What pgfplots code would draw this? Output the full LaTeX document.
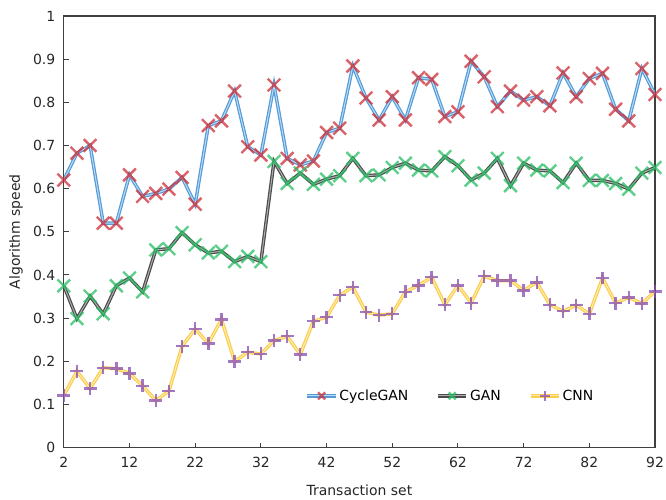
\documentclass[border=0pt]{standalone}
\usepackage{fontspec}
\setmainfont{DejaVu Sans}
\usepackage{pgfplots}
\pgfplotsset{compat=1.18}
\definecolor{cgline}{RGB}{85,155,215}
\definecolor{cgin}{RGB}{185,220,245}
\definecolor{cgmark}{RGB}{205,45,55}
\definecolor{ganline}{RGB}{75,75,75}
\definecolor{ganin}{RGB}{175,175,175}
\definecolor{ganmark}{RGB}{40,190,100}
\definecolor{cnnline}{RGB}{250,205,80}
\definecolor{cnnin}{RGB}{255,238,170}
\definecolor{cnnmark}{RGB}{135,75,180}
\begin{document}
\begin{tikzpicture}
\begin{axis}[
  scale only axis,
  width=593pt, height=433pt,
  xmin=2, xmax=92, ymin=0, ymax=1,
  xtick={2,12,...,92},
  ytick={0,0.1,...,1},
  yticklabels={0,0.1,0.2,0.3,0.4,0.5,0.6,0.7,0.8,0.9,1},
  tick pos=left, tick align=inside,
  major tick length=5pt,
  axis line style={line width=1.2pt, black!75},
  tick style={line width=1pt, black!75},
  /pgf/number format/assume math mode=true,
  ticklabel style={font=\fontsize{14}{16}\selectfont, text=black!85},
  xticklabel style={yshift=-6pt},
  yticklabel style={xshift=-5pt},
  label style={font=\fontsize{14}{16}\selectfont, text=black!85},
  xlabel={Transaction set},
  ylabel={Algorithm speed},
  xlabel style={at={(axis description cs:0.5,-0.099)}, anchor=center},
  ylabel style={at={(axis description cs:-0.081,0.5)}, anchor=center},
  legend columns=3,
  legend style={draw=none, fill=none, at={(0.654,0.12)}, anchor=center,
    font=\fontsize{14}{16}\selectfont, /tikz/every even column/.append style={column sep=26pt}},
  legend image code/.code={
    \draw[#1,mark repeat=2,mark phase=2] plot coordinates {(0cm,0cm) (0.5cm,0cm) (1.0cm,0cm)};
  },
  legend image post style={mark size=5pt},
]
\addplot[cgline, line width=1.2pt, double=cgin, double distance=1pt,
  mark=x, mark size=9pt, mark options={cgmark, opacity=0.75, line width=2.4pt, double=none}] coordinates {
(2,0.620)(4,0.682)(6,0.700)(8,0.520)(10,0.520)(12,0.632)(14,0.582)(16,0.589)(18,0.599)(20,0.626)
(22,0.564)(24,0.746)(26,0.757)(28,0.826)(30,0.697)(32,0.678)(34,0.840)(36,0.670)(38,0.655)(40,0.664)
(42,0.730)(44,0.740)(46,0.884)(48,0.810)(50,0.759)(52,0.813)(54,0.759)(56,0.857)(58,0.853)(60,0.767)
(62,0.778)(64,0.895)(66,0.859)(68,0.790)(70,0.826)(72,0.805)(74,0.813)(76,0.792)(78,0.868)(80,0.813)
(82,0.855)(84,0.867)(86,0.784)(88,0.757)(90,0.878)(92,0.818)};
\addlegendentry{CycleGAN}
\addplot[ganline, line width=1.2pt, double=ganin, double distance=1pt,
  mark=x, mark size=9pt, mark options={ganmark, opacity=0.75, line width=2.4pt, double=none}] coordinates {
(2,0.375)(4,0.299)(6,0.351)(8,0.310)(10,0.375)(12,0.393)(14,0.361)(16,0.458)(18,0.461)(20,0.498)
(22,0.470)(24,0.451)(26,0.455)(28,0.431)(30,0.443)(32,0.431)(34,0.663)(36,0.612)(38,0.636)(40,0.610)
(42,0.622)(44,0.630)(46,0.670)(48,0.630)(50,0.632)(52,0.649)(54,0.659)(56,0.643)(58,0.641)(60,0.674)
(62,0.653)(64,0.620)(66,0.636)(68,0.670)(70,0.607)(72,0.659)(74,0.643)(76,0.641)(78,0.614)(80,0.659)
(82,0.619)(84,0.619)(86,0.612)(88,0.599)(90,0.636)(92,0.649)};
\addlegendentry{GAN}
\addplot[cnnline, line width=1.2pt, double=cnnin, double distance=1pt,
  mark=+, mark size=6.5pt, mark options={cnnmark, opacity=0.75, line width=2.4pt, double=none}] coordinates {
(2,0.121)(4,0.177)(6,0.137)(8,0.185)(10,0.183)(12,0.172)(14,0.143)(16,0.109)(18,0.131)(20,0.235)
(22,0.275)(24,0.241)(26,0.297)(28,0.200)(30,0.221)(32,0.217)(34,0.248)(36,0.258)(38,0.216)(40,0.293)
(42,0.302)(44,0.353)(46,0.372)(48,0.314)(50,0.307)(52,0.310)(54,0.361)(56,0.376)(58,0.395)(60,0.331)
(62,0.376)(64,0.335)(66,0.397)(68,0.387)(70,0.387)(72,0.364)(74,0.383)(76,0.331)(78,0.316)(80,0.330)
(82,0.310)(84,0.393)(86,0.335)(88,0.348)(90,0.334)(92,0.362)};
\addlegendentry{CNN}
\end{axis}
\pgfresetboundingbox
\path (-64pt,-52pt) rectangle (604pt,449pt);
\end{tikzpicture}
\end{document}
